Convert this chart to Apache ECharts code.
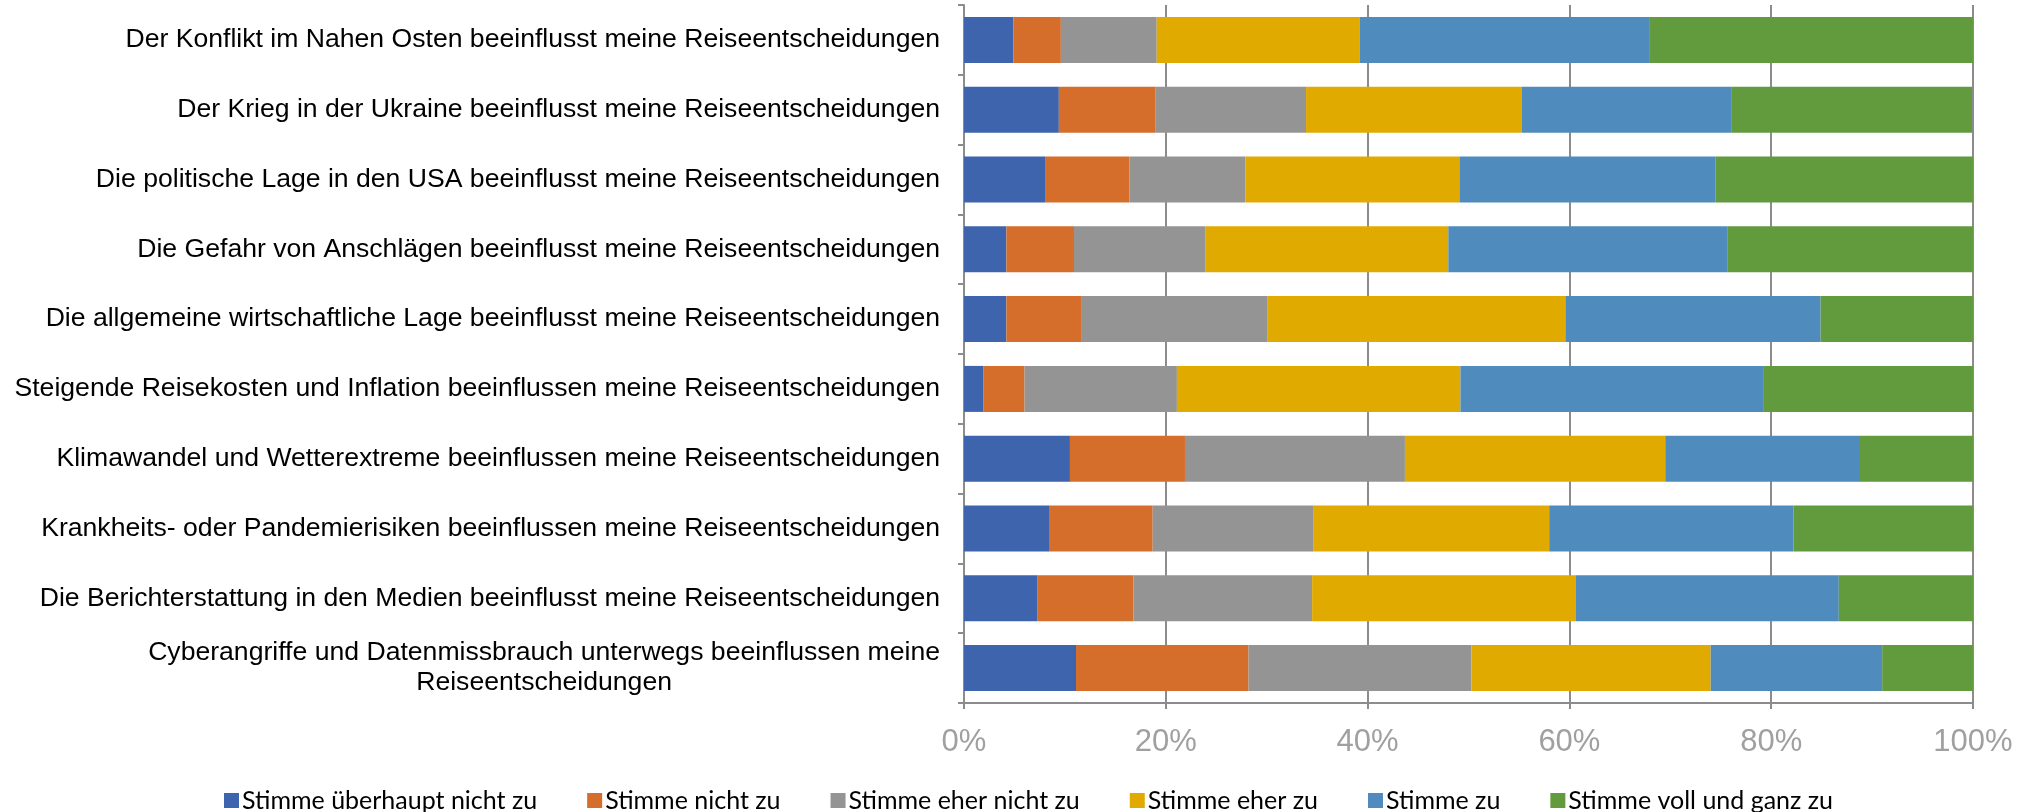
<!DOCTYPE html>
<html>
<head>
<meta charset="utf-8">
<script src="https://cdn.jsdelivr.net/npm/echarts@6/dist/echarts.min.js"></script>
<style>
  html, body { margin: 0; padding: 0; background: #fff; }
  #chart { width: 2024px; height: 812px; }
</style>
</head>
<body>
<div id="chart"></div>
<script>
// Kategorien (von oben nach unten)
var categories = [
  'Der Konflikt im Nahen Osten beeinflusst meine Reiseentscheidungen',
  'Der Krieg in der Ukraine beeinflusst meine Reiseentscheidungen',
  'Die politische Lage in den USA beeinflusst meine Reiseentscheidungen',
  'Die Gefahr von Anschlägen beeinflusst meine Reiseentscheidungen',
  'Die allgemeine wirtschaftliche Lage beeinflusst meine Reiseentscheidungen',
  'Steigende Reisekosten und Inflation beeinflussen meine Reiseentscheidungen',
  'Klimawandel und Wetterextreme beeinflussen meine Reiseentscheidungen',
  'Krankheits- oder Pandemierisiken beeinflussen meine Reiseentscheidungen',
  'Die Berichterstattung in den Medien beeinflusst meine Reiseentscheidungen',
  'Cyberangriffe und Datenmissbrauch unterwegs beeinflussen meine\nReiseentscheidungen'
];

var seriesNames = [
  'Stimme überhaupt nicht zu',
  'Stimme nicht zu',
  'Stimme eher nicht zu',
  'Stimme eher zu',
  'Stimme zu',
  'Stimme voll und ganz zu'
];

// Anteile in %
var gar_nicht   = [4.9, 9.4, 8.1, 4.2, 4.2, 1.9, 10.5, 8.5, 7.3, 11.1];
var nicht       = [4.7, 9.6, 8.3, 6.7, 7.4, 4.1, 11.4, 10.2, 9.5, 17.1];
var eher_nicht  = [9.5, 14.9, 11.5, 13.0, 18.5, 15.1, 21.8, 15.9, 17.7, 22.1];
var eher_zu     = [20.1, 21.4, 21.2, 24.1, 29.5, 28.1, 25.8, 23.4, 26.1, 23.7];
var zu          = [28.7, 20.8, 25.4, 27.7, 25.3, 30.0, 19.3, 24.2, 26.1, 17.0];
var voll        = [32.1, 23.8, 25.5, 24.3, 15.1, 20.8, 11.2, 17.8, 13.3, 9.0];

var xTicks = [0, 20, 40, 60, 80, 100];

var colors = ['#3D64AC', '#D56E2A', '#949494', '#E1AA00', '#4F8BBD', '#629A3E'];
var allData = [gar_nicht, nicht, eher_nicht, eher_zu, zu, voll];

var myChart = echarts.init(document.getElementById('chart'));

var series = [];
for (var i = 0; i < seriesNames.length; i++) {
  series.push({
    name: seriesNames[i],
    type: 'bar',
    stack: 'total',
    barWidth: 46,
    itemStyle: { color: colors[i] },
    data: allData[i]
  });
}

var option = {
  animation: false,
  color: colors,
  grid: {
    left: 964,
    right: 51,
    top: 5,
    bottom: 109,
    containLabel: false,
    outerBoundsMode: 'none'
  },
  legend: {
    top: 783,
    left: 219,
    itemWidth: 15,
    itemHeight: 15,
    itemGap: 50,
    icon: 'rect',
    textStyle: {
      fontFamily: 'Lato',
      fontSize: 25,
      color: '#000',
      padding: [0, 0, 0, -2]
    },
    data: seriesNames
  },
  xAxis: {
    type: 'value',
    min: xTicks[0],
    max: xTicks[xTicks.length - 1],
    interval: 20,
    axisLine: { show: true, lineStyle: { color: '#8c8c8c', width: 2 } },
    axisTick: { show: true, length: 6, lineStyle: { color: '#8c8c8c', width: 2 } },
    splitLine: { show: true, lineStyle: { color: '#8c8c8c', width: 2 } },
    axisLabel: {
      formatter: '{value}%',
      fontFamily: 'Liberation Sans',
      fontSize: 31,
      color: '#a0a0a0',
      margin: 24
    }
  },
  yAxis: {
    type: 'category',
    inverse: true,
    data: categories,
    axisLine: { show: true, lineStyle: { color: '#8c8c8c', width: 2 } },
    axisTick: { show: true, length: 6, lineStyle: { color: '#8c8c8c', width: 2 } },
    splitLine: { show: false },
    axisLabel: {
      margin: 24,
      fontFamily: 'Liberation Sans',
      fontSize: 26.6,
      color: '#000',
      formatter: function (value) {
        var parts = value.split('\n');
        if (parts.length > 1) {
          return '{a|' + parts[0] + '}\n{c|' + parts[1] + '}';
        }
        return value;
      },
      rich: {
        a: { fontFamily: 'Liberation Sans', fontSize: 26.6, color: '#000', lineHeight: 30 },
        c: { fontFamily: 'Liberation Sans', fontSize: 26.6, color: '#000', lineHeight: 30, align: 'center' }
      }
    }
  },
  series: series
};

myChart.setOption(option);
window.onresize = myChart.resize;
</script>
</body>
</html>
